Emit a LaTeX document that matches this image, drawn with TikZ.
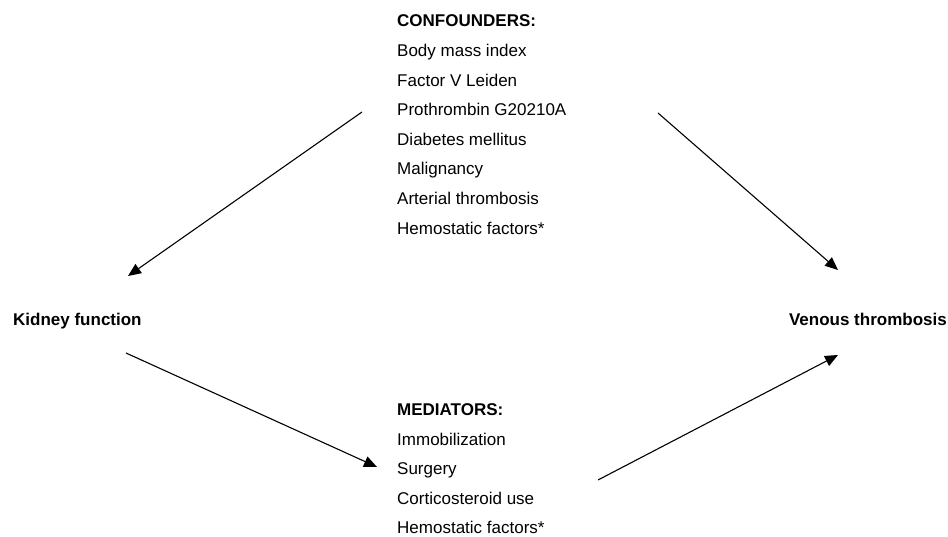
\documentclass[tikz,border=0pt]{standalone}
\usepackage{fontspec}
\setmainfont{Liberation Sans}
\usetikzlibrary{arrows.meta}
\begin{document}
\begin{tikzpicture}[x=1pt,y=1pt,
  lbl/.style={inner sep=0pt,anchor=base west,font=\fontsize{17}{20}\selectfont},
  hdr/.style={lbl,font=\fontsize{17}{20}\selectfont\bfseries},
  arr/.style={line width=1.1pt,-{Triangle[length=13pt,width=11pt]}}]
\useasboundingbox (0,0) rectangle (948,537);
% confounders
\node[hdr] (conf) at (397,510) {CONFOUNDERS:};
\node[lbl] (c1) at (397,480.4) {Body mass index};
\node[lbl] (c2) at (397,450.8) {Factor V Leiden};
\node[lbl] (c3) at (397,421.2) {Prothrombin G20210A};
\node[lbl] (c4) at (397,391.6) {Diabetes mellitus};
\node[lbl] (c5) at (397,362.0) {Malignancy};
\node[lbl] (c6) at (397,332.4) {Arterial thrombosis};
\node[lbl] (c7) at (397,302.8) {Hemostatic factors*};
% mediators
\node[hdr] (med) at (397,121) {MEDIATORS:};
\node[lbl] (m1) at (397,91.5) {Immobilization};
\node[lbl] (m2) at (397,62) {Surgery};
\node[lbl] (m3) at (397,32.5) {Corticosteroid use};
\node[lbl] (m4) at (397,3.5) {Hemostatic factors*};
% exposure / outcome
\node[hdr] (kid) at (13,211) {Kidney function};
\node[hdr,anchor=base east] (ven) at (947,211) {Venous thrombosis};
% arrow ends
\coordinate (a1s) at (362,425); \coordinate (a1e) at (128,261);
\coordinate (a2s) at (658,424); \coordinate (a2e) at (838,267);
\coordinate (a3s) at (126,184); \coordinate (a3e) at (377,70);
\coordinate (a4s) at (598,57);  \coordinate (a4e) at (838,182);
\draw[arr] (a1s) -- (a1e);
\draw[arr] (a2s) -- (a2e);
\draw[arr] (a3s) -- (a3e);
\draw[arr] (a4s) -- (a4e);
\end{tikzpicture}
\end{document}
